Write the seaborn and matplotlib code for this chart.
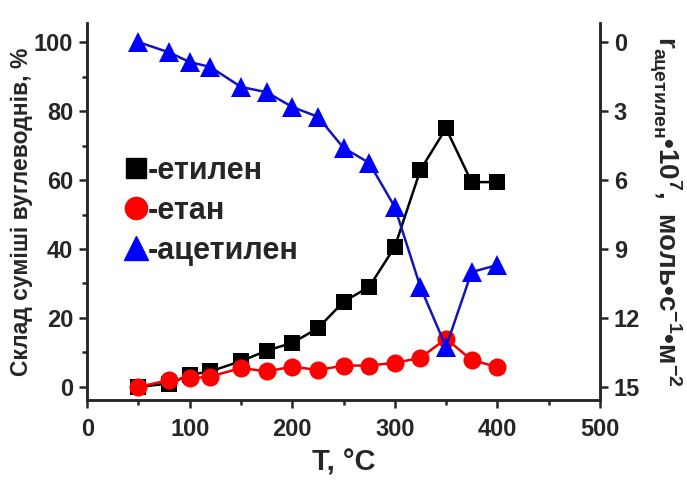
import numpy as np
import pandas as pd
import matplotlib
matplotlib.use('Agg')
import matplotlib.pyplot as plt
from matplotlib.lines import Line2D
import seaborn as sns

# values
temps = [50, 80, 100, 120, 150, 175, 200, 225, 250, 275, 300, 325, 350, 375, 400]
ethylene = [0.0, 1.0, 3.5, 4.5, 7.5, 10.5, 12.8, 17.0, 24.7, 29.0, 40.6, 62.9, 75.0, 59.4, 59.4]
ethane = [0.0, 2.0, 2.5, 3.0, 5.5, 4.5, 5.9, 4.9, 6.2, 6.2, 7.0, 8.4, 14.0, 7.8, 5.8]
acetylene_rate = [0.0, 0.45, 0.87, 1.08, 1.95, 2.18, 2.82, 3.25, 4.6, 5.25, 7.17, 10.65, 13.26, 10.0, 9.7]

labels = ['-етилен', '-етан', '-ацетилен']
colors = ['black', '#ff0000', '#0000ff']
line_colors = ['black', '#ee0000', '#1414b8']
markers = ['s', 'o', '^']

df = pd.DataFrame({'T': temps, 'ethylene': ethylene, 'ethane': ethane,
                   'acetylene': acetylene_rate})

sns.set_style('ticks')
plt.rcParams['font.family'] = ['Liberation Sans', 'DejaVu Sans']
plt.rcParams['mathtext.fontset'] = 'custom'
plt.rcParams['mathtext.rm'] = 'Liberation Sans'
plt.rcParams['mathtext.bf'] = 'Liberation Sans:bold'

fig = plt.figure(figsize=(6.87, 4.82), dpi=100)
ax = fig.add_axes([0.127, 0.170, 0.746, 0.782])
ax2 = ax.twinx()

sns.lineplot(data=df, x='T', y='ethylene', ax=ax, color=line_colors[0], marker=markers[0],
             markersize=12, linewidth=1.8, markeredgewidth=0, markerfacecolor=colors[0])
sns.lineplot(data=df, x='T', y='ethane', ax=ax, color=line_colors[1], marker=markers[1],
             markersize=13, linewidth=1.8, markeredgewidth=0, markerfacecolor=colors[1])
sns.lineplot(data=df, x='T', y='acetylene', ax=ax2, color=line_colors[2], marker=markers[2],
             markersize=14, linewidth=1.8, markeredgewidth=0, markerfacecolor=colors[2])

ax.set_xlim(0, 500)
ax.set_ylim(-3.8, 105.5)
ax2.set_ylim(15 + 3.8 * 0.15, -5.5 * 0.15)

ax.set_xticks(np.arange(0, 501, 100))
ax.set_xticks(np.arange(50, 500, 100), minor=True)
ax.set_yticks(np.arange(0, 101, 20))
ax.set_yticks(np.arange(10, 100, 20), minor=True)
ax2.set_yticks(np.arange(0, 16, 3))

for a in (ax, ax2):
    for s in a.spines.values():
        s.set_linewidth(1.8)
    a.spines['top'].set_visible(False)
    a.tick_params(which='major', length=6, width=1.8, labelsize=17, pad=4)
    a.tick_params(which='minor', length=3.5, width=1.8)
    for t in a.get_xticklabels() + a.get_yticklabels():
        t.set_fontweight('bold')
ax.tick_params(axis='x', pad=7)

ax.set_xlabel('T, °C', fontsize=21, fontweight='bold', labelpad=5)
ax.set_ylabel('Склад суміші вуглеводнів, %', fontsize=16.5, fontweight='bold', labelpad=1)
ax2.set_ylabel('$\\mathbf{r_{ацетилен}\u2022 10^7,\\ моль\u2022 с^{-1}\u2022 м^{-2}}$',
               fontsize=20, rotation=-90, labelpad=31)

handles = [Line2D([], [], ls='none', marker=m, color=c, markersize=ms)
           for m, c, ms in zip(markers, colors, [15, 16, 17])]
leg = ax.legend(handles, labels, loc='upper left', bbox_to_anchor=(0.02, 0.72),
                frameon=False, handlelength=0.7, handletextpad=0.05, labelspacing=0.32,
                prop={'size': 22, 'weight': 'bold'})

fig.savefig('out.png', dpi=100)
